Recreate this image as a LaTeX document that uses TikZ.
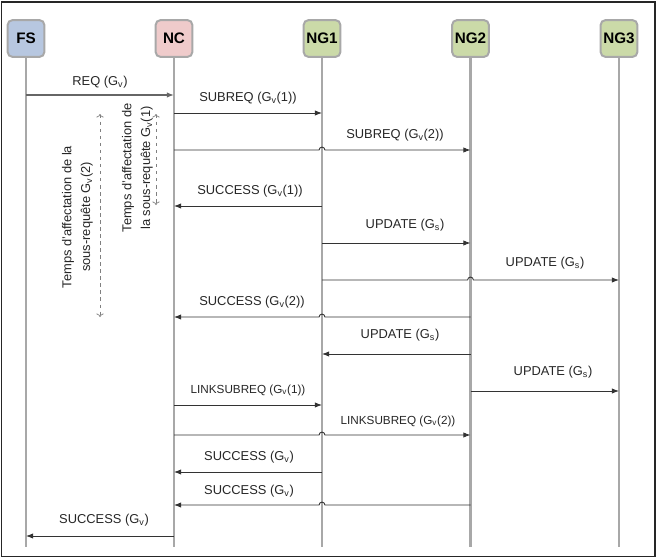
\documentclass[tikz,border=0pt]{standalone}
\usepackage{fontspec}
\setmainfont{Liberation Sans}
\usepackage{tikz}
\usetikzlibrary{arrows.meta,positioning,calc}
\definecolor{fsblue}{HTML}{B7C7E0}
\definecolor{ncpink}{HTML}{EFCBCB}
\definecolor{nggreen}{HTML}{CBDAA8}
\definecolor{lifegray}{HTML}{A8A8A8}
\definecolor{msgdark}{HTML}{333333}
\newcommand{\Gv}{G\textsubscript{v}}
\newcommand{\Gs}{G\textsubscript{s}}

\begin{document}
\begin{tikzpicture}[x=0.03cm,y=-0.03cm,
  actor/.style={draw=lifegray, line width=1.7pt, rounded corners=4pt, minimum width=1.1cm, minimum height=1.1cm, inner sep=0pt, font=\fontsize{13}{15}\selectfont\bfseries},
  life/.style={lifegray, line width=1.8pt},
  msg/.style={msgdark, line width=0.75pt, -{Latex[length=6pt,width=4.5pt]}},
  lbl/.style={text=black!85, inner sep=0pt, font=\fontsize{11}{13}\selectfont},
  timing/.style={gray, dashed, line width=0.6pt, {To[length=3pt]}-{To[length=3pt]}}]
\useasboundingbox (0,0) rectangle (660,560);
\draw[line width=1.6pt, black!85] (1.5,2) rectangle (655,556.5);

% participants
\node[actor, fill=fsblue] (fs) at (26,38.5) {FS};
\node[actor, fill=ncpink] (nc) at (174,38.5) {NC};
\node[actor, fill=nggreen] (ng1) at (322,38.5) {NG1};
\node[actor, fill=nggreen] (ng2) at (470.5,38.5) {NG2};
\node[actor, fill=nggreen] (ng3) at (619,38.5) {NG3};
\foreach \n in {fs,nc,ng1,ng2,ng3}
  \draw[life] (\n.south) -- (\n |- 0,547);

% timing
\coordinate (t1a) at (156,114);
\coordinate (t1b) at (156,205);
\coordinate (t2a) at (100,114);
\coordinate (t2b) at (100,317);
\draw[timing] (t1a) -- (t1b);
\draw[timing] (t2a) -- (t2b);
\node[lbl, rotate=90, align=center, font=\fontsize{11}{16}\selectfont] (t1) at (137.5,168) {Temps d'affectation de\\la sous-requête \Gv(1)};
\node[lbl, rotate=90, align=center, font=\fontsize{11}{16}\selectfont] (t2) at (77.5,217) {Temps d'affectation de la\\sous-requête \Gv(2)};

% messages
\draw[msg, black!60, line width=1pt] (fs |- 0,95) -- (nc |- 0,95);
\node[lbl] (m1) at (100,82) {REQ (\Gv)};
\draw[msg] (nc |- 0,113) -- (ng1 |- 0,113);
\node[lbl] (m2) at (248,98) {SUBREQ (\Gv(1))};
\draw[msg] (nc |- 0,150) -- ([xshift=-2.5pt]ng1 |- 0,150) arc[start angle=180,end angle=0,radius=2.5pt] -- (ng2 |- 0,150);
\node[lbl] (m3) at (395,135) {SUBREQ (\Gv(2))};
\draw[msg] (ng1 |- 0,206) -- (nc |- 0,206);
\node[lbl] (m4) at (250,191) {SUCCESS (\Gv(1))};
\draw[msg] (ng1 |- 0,243) -- (ng2 |- 0,243);
\node[lbl] (m5) at (405,225) {UPDATE (\Gs)};
\draw[msg] (ng1 |- 0,280) -- ([xshift=-2.5pt]ng2 |- 0,280) arc[start angle=180,end angle=0,radius=2.5pt] -- (ng3 |- 0,280);
\node[lbl] (m6) at (545,263) {UPDATE (\Gs)};
\draw[msg] (ng2 |- 0,317) -- ([xshift=2.5pt]ng1 |- 0,317) arc[start angle=0,end angle=180,radius=2.5pt] -- (nc |- 0,317);
\node[lbl] (m7) at (252,302) {SUCCESS (\Gv(2))};
\draw[msg] (ng2 |- 0,354) -- (ng1 |- 0,354);
\node[lbl] (m8) at (400,335) {UPDATE (\Gs)};
\draw[msg] (ng2 |- 0,391) -- (ng3 |- 0,391);
\node[lbl] (m9) at (553,372) {UPDATE (\Gs)};
\draw[msg] (nc |- 0,405) -- (ng1 |- 0,405);
\node[lbl, font=\fontsize{10}{12}\selectfont] (m10) at (248,390) {LINKSUBREQ (\Gv(1))};
\draw[msg] (nc |- 0,435) -- ([xshift=-2.5pt]ng1 |- 0,435) arc[start angle=180,end angle=0,radius=2.5pt] -- (ng2 |- 0,435);
\node[lbl, font=\fontsize{10}{12}\selectfont] (m11) at (398,421) {LINKSUBREQ (\Gv(2))};
\draw[msg] (ng1 |- 0,472) -- (nc |- 0,472);
\node[lbl] (m12) at (249,457) {SUCCESS (\Gv)};
\draw[msg] (ng2 |- 0,505) -- ([xshift=2.5pt]ng1 |- 0,505) arc[start angle=0,end angle=180,radius=2.5pt] -- (nc |- 0,505);
\node[lbl] (m13) at (249,491) {SUCCESS (\Gv)};
\draw[msg] (nc |- 0,536) -- (fs |- 0,536);
\node[lbl] (m14) at (104,520) {SUCCESS (\Gv)};
\end{tikzpicture}
\end{document}
